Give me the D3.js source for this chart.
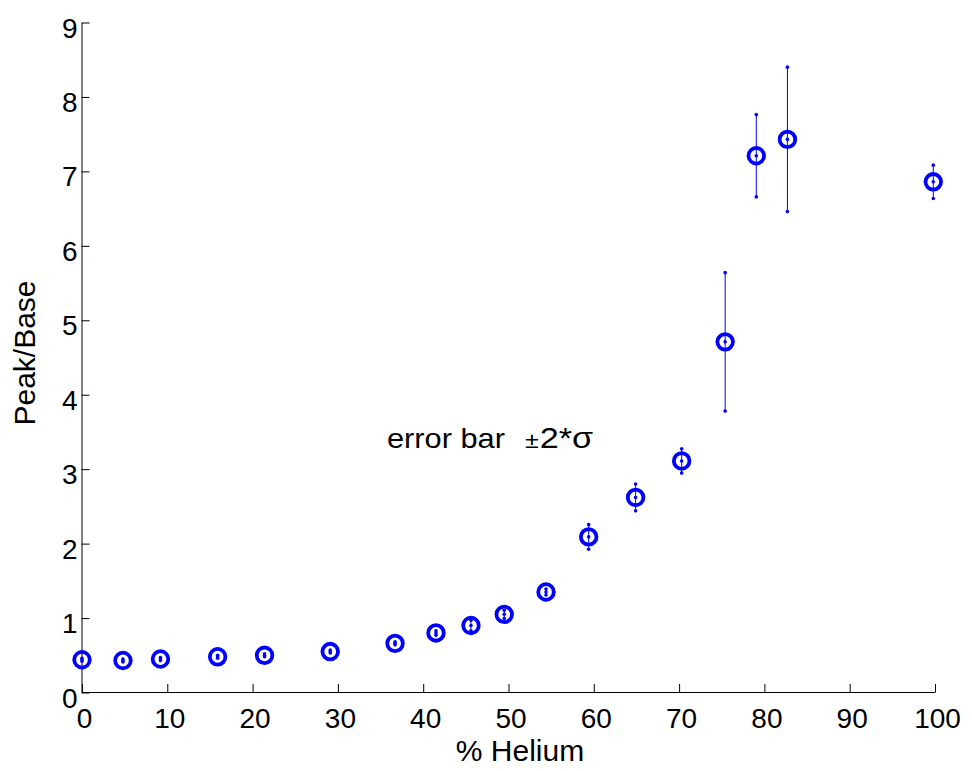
<!DOCTYPE html>
<html>
<head>
<meta charset="utf-8">
<script src="https://cdn.jsdelivr.net/npm/d3@7"></script>
<style>
  html, body { margin: 0; padding: 0; background: #fff; }
  svg { display: block; font-family: "Liberation Sans", Arial, Helvetica, sans-serif; }
</style>
</head>
<body>
<svg id="chart" width="972" height="771"></svg>
<script>
// Measured peak/base ratio versus helium fraction, with ±2σ error bars
const helium = [0, 4.8, 9.2, 15.9, 21.4, 29.1, 36.7, 41.5, 45.6, 49.5, 54.4, 59.4, 64.9, 70.3, 75.4, 79.05, 82.7, 99.8];
const ratio  = [0.44, 0.43, 0.45, 0.48, 0.50, 0.55, 0.66, 0.80, 0.90, 1.05, 1.35, 2.09, 2.62, 3.11, 4.71, 7.21, 7.43, 6.86];
const err2sigma = [0.02, 0.02, 0.02, 0.02, 0.02, 0.02, 0.02, 0.03, 0.07, 0.055, 0.04, 0.165, 0.18, 0.163, 0.93, 0.553, 0.97, 0.224];

const xTicks = [0, 10, 20, 30, 40, 50, 60, 70, 80, 90, 100];
const yTicks = [0, 1, 2, 3, 4, 5, 6, 7, 8, 9];

const xLabel = "% Helium";
const yLabel = "Peak/Base";

const blue = "#0000ff";
const svg = d3.select("#chart");

const x = d3.scaleLinear().domain([0, 100]).range([82, 935]);
const y = d3.scaleLinear().domain([0, 9]).range([692.5, 22.5]);

// axes: ticks point inward
const xAxis = svg.append("g")
  .attr("transform", "translate(0,692)")
  .call(d3.axisBottom(x).tickValues(xTicks).tickSizeInner(-8).tickSizeOuter(0).tickPadding(0));
xAxis.select(".domain").attr("stroke", "#000");
xAxis.selectAll(".tick line").attr("stroke", "#000");
xAxis.selectAll(".tick text")
  .attr("y", 0).attr("dy", 36).attr("dx", 2)
  .attr("font-size", 28).attr("fill", "#000")
  .attr("font-family", "Liberation Sans, Arial, sans-serif");

const yAxis = svg.append("g")
  .attr("transform", "translate(81.5,0)")
  .call(d3.axisLeft(y).tickValues(yTicks).tickSizeInner(-8).tickSizeOuter(0).tickPadding(0));
yAxis.select(".domain").attr("stroke", "#000");
yAxis.selectAll(".tick line").attr("stroke", "#000");
yAxis.selectAll(".tick text")
  .attr("x", -4).attr("dy", 14.5)
  .attr("font-size", 28).attr("fill", "#000")
  .attr("font-family", "Liberation Sans, Arial, sans-serif");

// axis titles
svg.append("text")
  .attr("x", 520).attr("y", 761)
  .attr("text-anchor", "middle")
  .attr("font-size", 30)
  .text(xLabel);

svg.append("text")
  .attr("transform", "translate(35,353) rotate(-90)")
  .attr("text-anchor", "middle")
  .attr("font-size", 30)
  .text(yLabel);

// data
const pts = helium.map((h, i) => ({ h, r: ratio[i], e: err2sigma[i] }));
const marks = svg.append("g");

// error bars
marks.selectAll("line.err").data(pts).join("line")
  .attr("class", "err")
  .attr("x1", d => x(d.h)).attr("x2", d => x(d.h))
  .attr("y1", d => y(d.r - d.e)).attr("y2", d => y(d.r + d.e))
  .attr("stroke", blue).attr("stroke-width", 1);

// error bar end dots
const ends = pts.flatMap(d => [{ h: d.h, v: d.r - d.e }, { h: d.h, v: d.r + d.e }]);
marks.selectAll("circle.end").data(ends).join("circle")
  .attr("class", "end")
  .attr("cx", d => x(d.h)).attr("cy", d => y(d.v))
  .attr("r", 1.8).attr("fill", blue);

// centre dots
marks.selectAll("circle.mid").data(pts).join("circle")
  .attr("class", "mid")
  .attr("cx", d => x(d.h)).attr("cy", d => y(d.r))
  .attr("r", 1.8).attr("fill", blue);

// open circle markers
marks.selectAll("circle.ring").data(pts).join("circle")
  .attr("class", "ring")
  .attr("cx", d => x(d.h)).attr("cy", d => y(d.r))
  .attr("r", 7.8).attr("fill", "none")
  .attr("stroke", blue).attr("stroke-width", 3.8);

// annotation
const note = svg.append("g").attr("transform", "translate(387,448) scale(1.14,1)");
note.append("text").attr("x", 0).attr("y", 0).attr("font-size", 27).text("error bar");
note.append("text").attr("x", 121).attr("y", 0).attr("font-size", 22).text("±");
note.append("text").attr("x", 134).attr("y", 0).attr("font-size", 30).text("2*σ");
</script>
</body>
</html>
